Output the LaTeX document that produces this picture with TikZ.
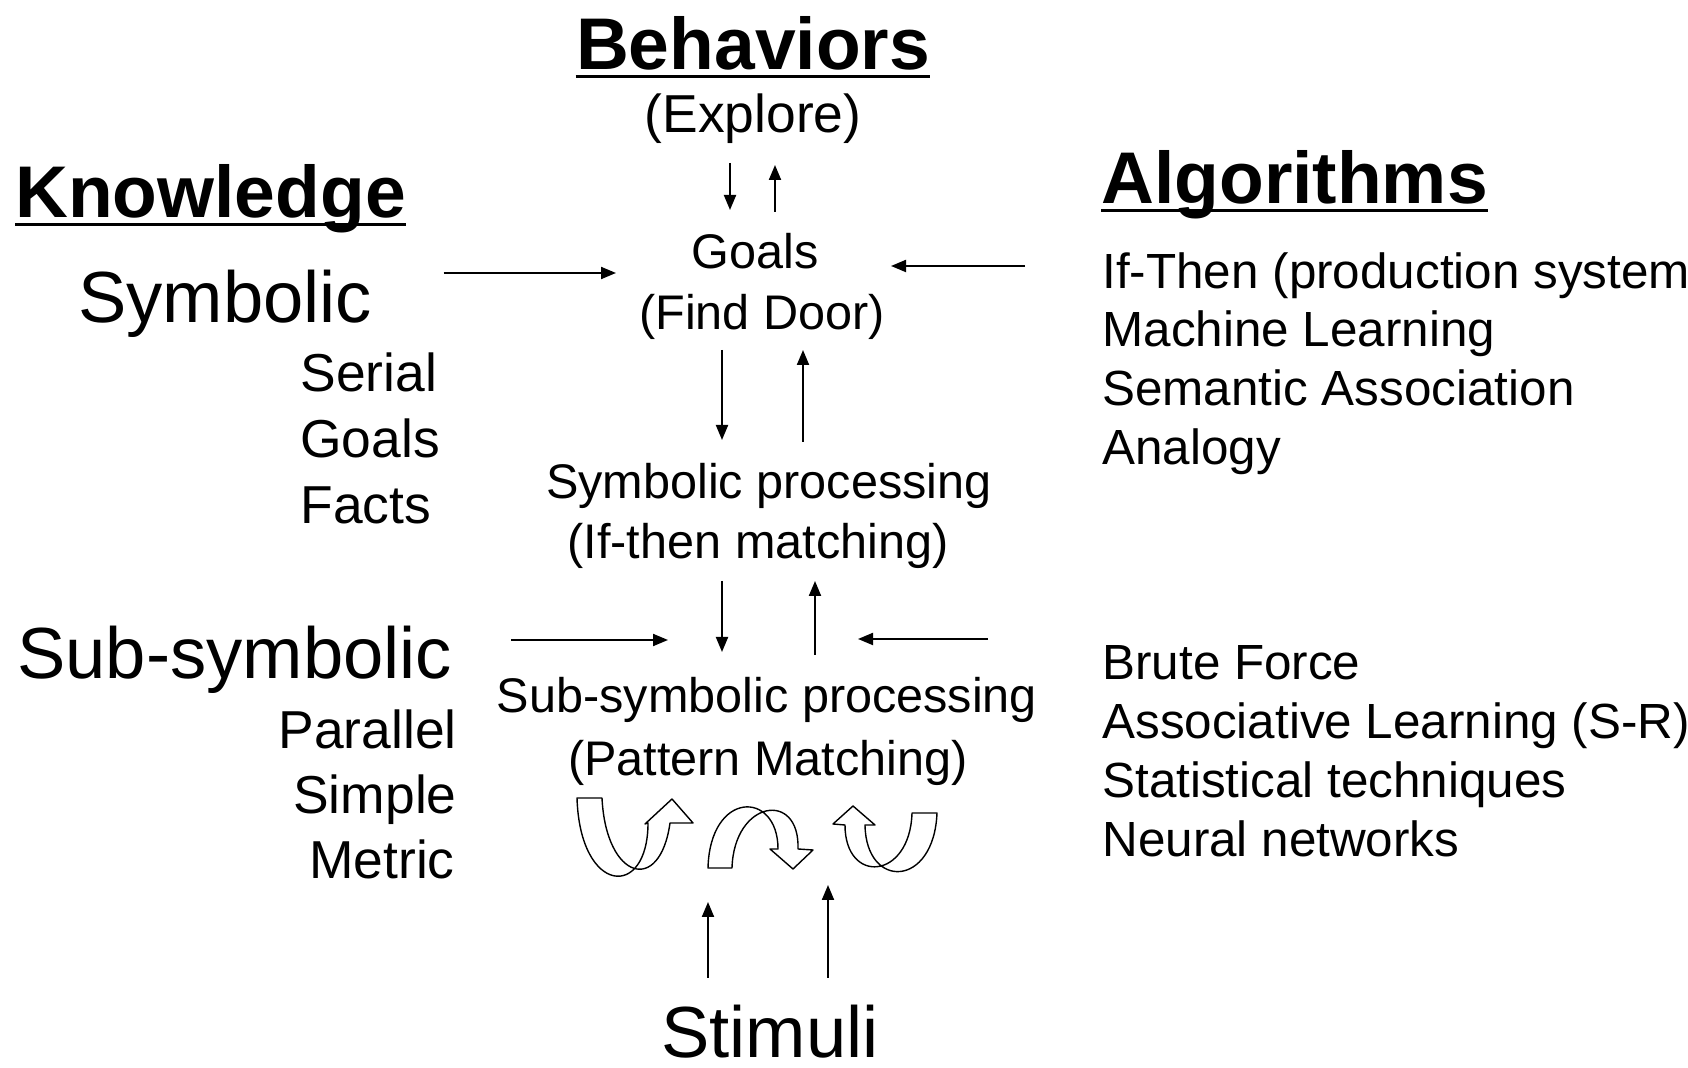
\documentclass[tikz,border=0pt]{standalone}
\usepackage{fontspec}
\setmainfont{Liberation Sans}
\usetikzlibrary{arrows.meta,positioning,calc}

\tikzset{
  headtext/.style={font=\fontsize{36.6}{40}\selectfont\bfseries, inner sep=0pt},
  bigtext/.style={font=\fontsize{36.2}{40}\selectfont, inner sep=0pt},
  midtext/.style={font=\fontsize{26.7}{30}\selectfont, inner sep=0pt},
  smalltext/.style={font=\fontsize{24.3}{28}\selectfont, inner sep=0pt, anchor=base},
  listtext/.style={font=\fontsize{24.7}{28}\selectfont, inner sep=0pt, anchor=base west},
  flow/.style={-{Triangle[length=7.5pt,width=6pt]}, line width=1pt},
  uline/.style={line width=1.5pt},
  turn/.style={draw, fill=white, line width=0.7pt, line join=round},
}

\begin{document}
\begin{tikzpicture}[x=0.5pt,y=-0.5pt]
\useasboundingbox (0,0) rectangle (1688,1068);

% headings
  \node[headtext,anchor=base]      (behav)   at (753,70)   {Behaviors};
  \node[midtext,anchor=base]       (explore) at (753,133)  {(Explore)};
  \node[headtext,anchor=base west] (know)    at (15,218)   {Knowledge};
  \node[headtext,anchor=base west] (algo)    at (1101,204) {Algorithms};

% knowledge side
  \node[bigtext,anchor=base west]  (sym)      at (78,323)  {Symbolic};
  \node[midtext,anchor=base west]  (serial)   at (300,392) {Serial};
  \node[midtext,anchor=base west]  (kgoals)   at (300,458) {Goals};
  \node[midtext,anchor=base west]  (facts)    at (300,524) {Facts};
  \node[bigtext,anchor=base west]  (subsym)   at (17,679)  {Sub-symbolic};
  \node[midtext,anchor=base east]  (parallel) at (457,749) {Parallel};
  \node[midtext,anchor=base east]  (simple)   at (457,814) {Simple};
  \node[midtext,anchor=base east]  (metric)   at (455,879) {Metric};

% middle column
  \node[smalltext] (goals)    at (755,269) {Goals};
  \node[smalltext] (finddoor) at (762,330) {(Find Door)};
  \node[smalltext] (symproc)  at (769,499) {Symbolic processing};
  \node[smalltext] (ifthen)   at (758,559) {(If-then matching)};
  \node[smalltext] (subproc)  at (767,713) {Sub-symbolic processing};
  \node[smalltext] (pattern)  at (768,776) {(Pattern Matching)};
  \node[bigtext,anchor=base] (stimuli) at (770,1058) {Stimuli};

% algorithms side
  \node[listtext] (prod)    at (1102,289) {If-Then (production system)};
  \node[listtext] (learn)   at (1102,347) {Machine Learning};
  \node[listtext] (assoc)   at (1102,406) {Semantic Association};
  \node[listtext] (analogy) at (1102,465) {Analogy};
  \node[listtext] (brute)   at (1102,680) {Brute Force};
  \node[listtext] (srlearn) at (1102,739) {Associative Learning (S-R)};
  \node[listtext] (stats)   at (1102,798) {Statistical techniques};
  \node[listtext] (neural)  at (1102,857) {Neural networks};

% underlines
  \draw[uline] ($(behav.base west)+(0,7)$) -- ($(behav.base east)+(0,7)$);
  \draw[uline] ($(know.base west)+(0,7)$) -- ($(know.base east)+(0,7)$);
  \draw[uline] ($(algo.base west)+(0,7)$) -- ($(algo.base east)+(0,7)$);

% arrows
  \draw[flow] ($(explore.base)+(-23,30)$) -- ($(goals.base)+(-25,-59)$);
  \draw[flow] ($(goals.base)+(20,-57)$)   -- ($(explore.base)+(22,32)$);
  \draw[flow] ($(sym.base east)+(71,-50)$) -- ($(goals.base)+(-139,4)$);
  \draw[flow] ($(prod.base west)+(-77,-23)$) -- ($(goals.base)+(136,-3)$);
  \draw[flow] ($(finddoor.base)+(-40,20)$) -- ($(symproc.base)+(-47,-59)$);
  \draw[flow] ($(symproc.base)+(34,-57)$)  -- ($(finddoor.base)+(41,20)$);
  \draw[flow] ($(ifthen.base)+(-36,22)$)   -- ($(subproc.base)+(-45,-61)$);
  \draw[flow] ($(subproc.base)+(48,-58)$)  -- ($(ifthen.base)+(57,22)$);
  \draw[flow] ($(subsym.base east)+(59,-39)$) -- ($(subproc.base)+(-99,-73)$);
  \draw[flow] ($(brute.base west)+(-114,-41)$) -- ($(subproc.base)+(91,-74)$);
  \draw[flow] ($(stimuli.base)+(-62,-80)$) -- ($(pattern.base)+(-60,126)$);
  \draw[flow] ($(stimuli.base)+(58,-80)$)  -- ($(pattern.base)+(60,109)$);

% turning arrows
  \draw[turn] (577,798) .. controls (580,895) and (648,900) .. (648,823)
    -- (645,824) -- (672,799) -- (693,823) -- (670,823)
    .. controls (660,895) and (606,880) .. (602,798) -- cycle;
  \draw[turn] (708,868) .. controls (710,790) and (778,790) .. (778,849)
    -- (770,849) -- (793,869) -- (813,850) -- (798,849)
    .. controls (800,790) and (734,800) .. (732,868) -- cycle;
  \draw[turn] (937,813) .. controls (934,888) and (866,890) .. (865,825)
    -- (875,825) -- (853,806) -- (833,824) -- (845,825)
    .. controls (845,885) and (910,880) .. (912,813) -- cycle;
\end{tikzpicture}
\end{document}
